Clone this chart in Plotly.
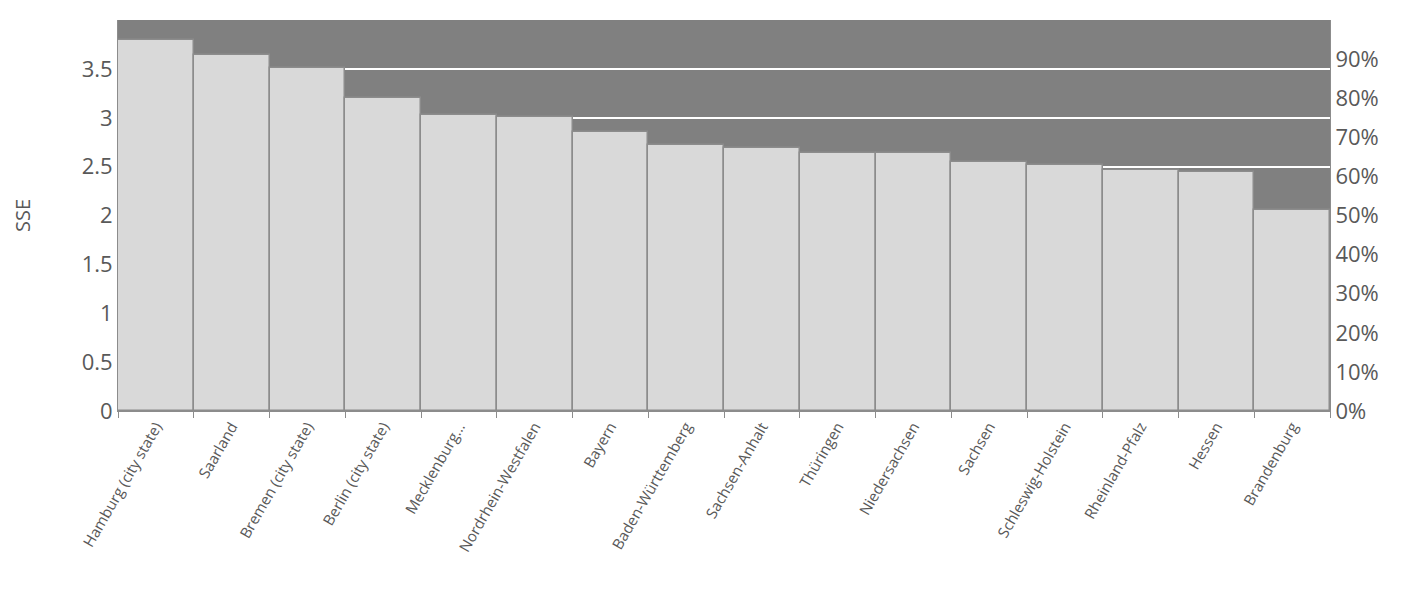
import plotly.graph_objects as go

states = ["Hamburg (city state)", "Saarland", "Bremen (city state)", "Berlin (city state)",
          "Mecklenburg...", "Nordrhein-Westfalen", "Bayern", "Baden-Württemberg",
          "Sachsen-Anhalt", "Thüringen", "Niedersachsen", "Sachsen", "Schleswig-Holstein",
          "Rheinland-Pfalz", "Hessen", "Brandenburg"]
sse = [3.80, 3.64, 3.51, 3.20, 3.03, 3.01, 2.85, 2.72, 2.69, 2.64, 2.64, 2.55, 2.52,
       2.47, 2.45, 2.06]

fig = go.Figure()
fig.add_trace(go.Bar(x=states, y=sse, marker=dict(color="#d9d9d9", line=dict(color="#8c8c8c", width=1.5)),
                     width=1, showlegend=False))
# invisible trace to carry the secondary axis
fig.add_trace(go.Scatter(x=states, y=[None] * len(states), yaxis="y2", showlegend=False))

font = dict(family="Open Sans, Liberation Sans, sans-serif", color="#595959")
fig.update_layout(
    width=1415, height=610,
    margin=dict(l=110, r=93, t=12, b=207, autoexpand=False),
    paper_bgcolor="white", plot_bgcolor="#808080",
    font=font, bargap=0,
    xaxis=dict(tickangle=-60, tickfont=dict(size=15), showline=True, linecolor="#8c8c8c",
               range=[-0.5, 15.5], automargin=False, ticks="outside", ticklen=6,
               tickcolor="#8c8c8c", tickson="boundaries"),
    yaxis=dict(range=[0, 4.001], tickvals=[0, 0.5, 1, 1.5, 2, 2.5, 3, 3.5, 4],
               ticktext=["0", "0.5", "1", "1.5", "2", "2.5", "3", "3.5", "4"],
               tickfont=dict(size=22), gridcolor="white", automargin=False,
               gridwidth=1.5, title=dict(text="SSE", font=dict(size=20), standoff=45),
               zeroline=False, showline=True, linecolor="#8c8c8c"),
    yaxis2=dict(overlaying="y", side="right", range=[0, 1.0003], automargin=False,
                tickvals=[i / 10 for i in range(11)],
                ticktext=[f"{i * 10}%" for i in range(11)],
                tickfont=dict(size=22), showgrid=False, showline=True, linecolor="#8c8c8c",
                zeroline=False),
)
fig.write_html("out.html")
